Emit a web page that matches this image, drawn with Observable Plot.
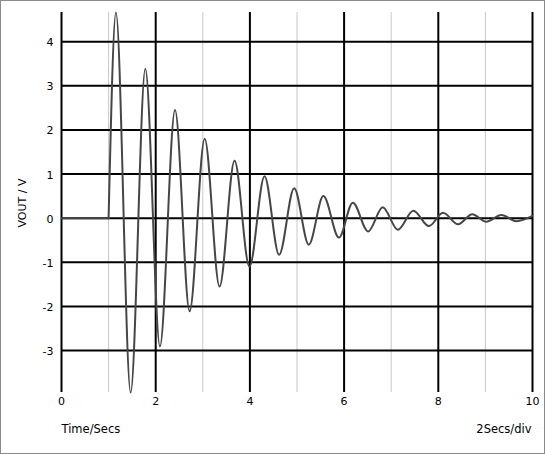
<!DOCTYPE html>
<html>
<head>
<meta charset="utf-8">
<script src="https://cdn.jsdelivr.net/npm/d3@7"></script>
<script src="https://cdn.jsdelivr.net/npm/@observablehq/plot@0.6"></script>
<style>
  html, body { margin: 0; padding: 0; background: white; }
  #wrap { position: relative; width: 545px; height: 454px; }
  #border { position: absolute; left: 0; top: 0; width: 545px; height: 454px; box-sizing: border-box; border: 1px solid #8a8a8a; pointer-events: none; }
</style>
</head>
<body>
<div id="wrap"><div id="border"></div></div>
<script>
// Tick positions / labels
const majorX = [0, 2, 4, 6, 8, 10];
const minorX = [1, 3, 5, 7, 9];
const yTicks = [-3, -2, -1, 0, 1, 2, 3, 4];
const yDomain = [-3.95, 4.66];

// Flat part before the step (Time/Secs, VOUT/V)
const flatTime = [0, 1];
const flatVout = [0, 0];

// Ringing after the step: start point, then successive peaks and troughs
const waveTime = [1.0, 1.156, 1.468, 1.78, 2.09, 2.41, 2.72, 3.04, 3.355, 3.674, 3.99, 4.31, 4.62, 4.94, 5.25, 5.56, 5.89, 6.185, 6.51, 6.82, 7.14, 7.47, 7.80, 8.10, 8.42, 8.72, 9.02, 9.34, 9.66, 10.0];
const waveVout = [0.0, 4.66, -3.95, 3.385, -2.905, 2.45, -2.11, 1.80, -1.55, 1.30, -1.10, 0.95, -0.83, 0.68, -0.60, 0.50, -0.44, 0.35, -0.30, 0.25, -0.26, 0.17, -0.18, 0.12, -0.14, 0.09, -0.08, 0.07, -0.07, 0.05];

const rows = [
  ...flatTime.map((t, i) => ({t, v: flatVout[i], seg: "flat"})),
  ...waveTime.map((t, i) => ({t, v: waveVout[i], seg: "wave"}))
];

const chart = Plot.plot({
  width: 545,
  height: 454,
  marginLeft: 61,
  marginRight: 13,
  marginTop: 12,
  marginBottom: 62,
  x: {domain: [0, 10]},
  y: {domain: yDomain},
  style: {fontFamily: "DejaVu Sans", fontSize: "11px", background: "white", color: "black"},
  marks: [
    Plot.gridX(minorX, {stroke: "#c8c8c8", strokeOpacity: 1, strokeWidth: 1}),
    Plot.gridY(yTicks, {stroke: "black", strokeOpacity: 1, strokeWidth: 2}),
    Plot.gridX(majorX, {stroke: "black", strokeOpacity: 1, strokeWidth: 2}),
    Plot.line(rows, {x: "t", y: "v", z: "seg", curve: "monotone-x", stroke: "#464646", strokeWidth: 2}),
    Plot.axisX(majorX, {tickSize: 0, tickPadding: 5, label: null, fontSize: 11, tickFormat: d => String(d)}),
    Plot.axisY(yTicks, {tickSize: 0, tickPadding: 8, label: null, fontSize: 11, dy: 1, tickFormat: d => String(d)}),
    Plot.text(["Time/Secs"], {frameAnchor: "bottom-left", textAnchor: "start", dx: 0, dy: 40, fontSize: 11.5}),
    Plot.text(["2Secs/div"], {frameAnchor: "bottom-right", textAnchor: "end", dx: -1, dy: 40, fontSize: 11.5}),
    Plot.text(["VOUT / V"], {frameAnchor: "left", rotate: -90, dx: -39, dy: 25, fontSize: 11})
  ]
});
document.getElementById("wrap").insertBefore(chart, document.getElementById("border"));
</script>
</body>
</html>
